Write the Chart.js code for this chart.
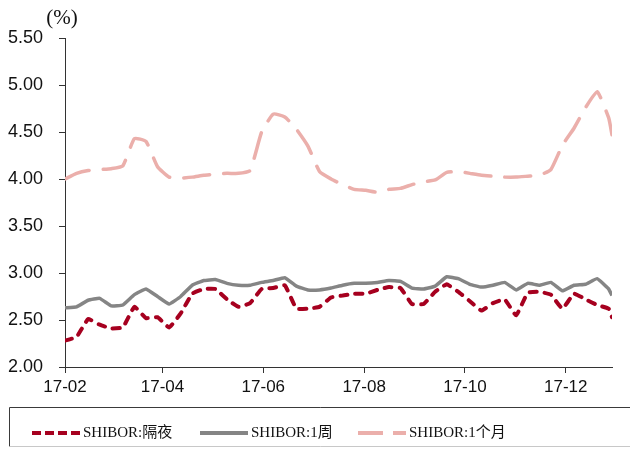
<!DOCTYPE html>
<html>
<head>
<meta charset="utf-8">
<script src="https://cdn.jsdelivr.net/npm/chart.js@4.4.1/dist/chart.umd.min.js"></script>
<style>
  html, body { margin: 0; padding: 0; background: #fff; }
  #wrap { width: 630px; height: 455px; position: relative; }
</style>
</head>
<body>
<div id="wrap"><canvas id="shiborChart"></canvas></div>
<script>
// weekly observation dates, 2017
const dates = ['02-01','02-08','02-15','02-22','03-01','03-08','03-15','03-22','03-29',
  '04-05','04-12','04-19','04-26','05-03','05-10','05-17','05-24','05-31',
  '06-07','06-14','06-21','06-28','07-05','07-12','07-19','07-26',
  '08-02','08-09','08-16','08-23','08-30','09-06','09-13','09-20','09-27',
  '10-04','10-11','10-18','10-25','11-01','11-08','11-15','11-22','11-29',
  '12-06','12-13','12-20','12-27','12-29'];

const overnight = [2.28,2.32,2.51,2.45,2.41,2.42,2.64,2.52,2.53,2.42,2.57,2.78,2.83,2.83,2.72,2.64,2.68,2.83,
  2.84,2.87,2.62,2.62,2.64,2.74,2.76,2.78,2.78,2.82,2.85,2.84,2.67,2.67,2.80,2.88,2.80,
  2.70,2.60,2.68,2.72,2.55,2.79,2.80,2.77,2.62,2.78,2.72,2.66,2.62,2.53];

const week1 = [2.63,2.64,2.71,2.73,2.65,2.66,2.77,2.83,2.75,2.67,2.75,2.87,2.92,2.93,2.89,2.87,2.87,2.90,
  2.92,2.95,2.86,2.82,2.82,2.84,2.87,2.89,2.89,2.90,2.92,2.91,2.84,2.83,2.86,2.96,2.94,
  2.88,2.85,2.87,2.90,2.82,2.89,2.87,2.90,2.81,2.87,2.88,2.94,2.83,2.76];

const month1 = [4.00,4.06,4.09,4.10,4.11,4.14,4.43,4.40,4.13,4.02,4.01,4.02,4.04,4.05,4.06,4.06,4.09,4.50,
  4.69,4.66,4.53,4.35,4.08,4.00,3.94,3.89,3.88,3.86,3.89,3.90,3.94,3.97,3.99,4.07,4.08,
  4.06,4.04,4.03,4.02,4.02,4.03,4.04,4.10,4.36,4.54,4.76,4.93,4.65,4.47];

const xTickLabels = ['17-02','17-04','17-06','17-08','17-10','17-12'];
const yTicks = [2.0, 2.5, 3.0, 3.5, 4.0, 4.5, 5.0, 5.5];
const seriesNames = ['SHIBOR:隔夜', 'SHIBOR:1周', 'SHIBOR:1个月'];

const DAY = 86400000;
const start = Date.UTC(2017, 1, 1);
const dayOf = s => (Date.UTC(2017, +s.slice(0, 2) - 1, +s.slice(3, 5)) - start) / DAY;
const tickDays = xTickLabels.map(l => (Date.UTC(2000 + +l.slice(0, 2), +l.slice(3, 5) - 1, 1) - start) / DAY);
const pts = vals => vals.map((v, i) => ({ x: dayOf(dates[i]), y: v }));

const axisColor = '#333333';

// legend drawn in a box under the axis, like the original
const boxLegend = {
  id: 'boxLegend',
  afterDraw(chart) {
    const ctx = chart.ctx;
    ctx.save();
    ctx.strokeStyle = '#3a3a3a';
    ctx.lineWidth = 1;
    ctx.beginPath();
    ctx.moveTo(640, 407.5); ctx.lineTo(9.5, 407.5); ctx.lineTo(9.5, 446.5);
    ctx.stroke();
    ctx.strokeStyle = '#c8c8c8';
    ctx.beginPath();
    ctx.moveTo(9.5, 446.5); ctx.lineTo(640, 446.5);
    ctx.stroke();

    const starts = [32, 200, 358];
    const legendDash = [[9, 4], [], [25, 10]];
    const y = 433;
    chart.data.datasets.forEach((ds, i) => {
      const x0 = starts[i];
      ctx.strokeStyle = ds.borderColor;
      ctx.lineWidth = 4;
      ctx.lineCap = 'butt';
      ctx.setLineDash(legendDash[i]);
      ctx.beginPath();
      ctx.moveTo(x0, y); ctx.lineTo(x0 + 48, y);
      ctx.stroke();
      ctx.setLineDash([]);
      ctx.fillStyle = '#111';
      ctx.font = '15px "Liberation Serif", "Noto Sans CJK SC", serif';
      ctx.textBaseline = 'middle';
      ctx.textAlign = 'left';
      ctx.fillText(ds.label, x0 + 51, y);
    });

    ctx.font = '21px "Liberation Serif", "Noto Sans CJK SC", serif';
    ctx.textAlign = 'center';
    ctx.fillText('(%)', 62, 18);
    ctx.restore();
  }
};

new Chart(document.getElementById('shiborChart'), {
  type: 'line',
  data: {
    datasets: [{
      label: seriesNames[0],
      data: pts(overnight),
      borderColor: '#A6001F',
      borderWidth: 4,
      borderDash: [7, 8],
      borderCapStyle: 'round',
      pointRadius: 0,
      tension: 0.1
    }, {
      label: seriesNames[1],
      data: pts(week1),
      borderColor: '#858585',
      borderWidth: 3.5,
      pointRadius: 0,
      tension: 0.1
    }, {
      label: seriesNames[2],
      data: pts(month1),
      borderColor: '#EBAFAB',
      borderWidth: 3.5,
      borderDash: [26, 14],
      borderCapStyle: 'round',
      pointRadius: 0,
      tension: 0.15
    }]
  },
  options: {
    responsive: true,
    maintainAspectRatio: false,
    animation: false,
    layout: { padding: { top: 38, right: 18, bottom: 0, left: 0 } },
    plugins: {
      legend: { display: false },
      tooltip: { enabled: false }
    },
    scales: {
      x: {
        type: 'linear',
        min: 0,
        max: dayOf('12-29'),
        afterBuildTicks: s => { s.ticks = tickDays.map(v => ({ value: v })); },
        afterFit: s => { s.height = 88; },
        ticks: {
          autoSkip: false,
          maxRotation: 0,
          padding: 4,
          color: '#111',
          font: { family: '"Liberation Sans", Arial, sans-serif', size: 17 },
          callback: (v, i) => xTickLabels[i]
        },
        grid: { drawOnChartArea: false, drawTicks: true, tickLength: 6, color: axisColor },
        border: { color: axisColor, width: 1 }
      },
      y: {
        min: 2,
        max: 5.5,
        afterBuildTicks: s => { s.ticks = yTicks.map(v => ({ value: v })); },
        afterFit: s => { s.width = 65; },
        ticks: {
          padding: 16,
          color: '#111',
          font: { family: '"Liberation Sans", Arial, sans-serif', size: 18 },
          callback: v => v.toFixed(2)
        },
        grid: { drawOnChartArea: false, drawTicks: true, tickLength: 6, color: axisColor },
        border: { color: axisColor, width: 1 }
      }
    }
  },
  plugins: [boxLegend]
});
</script>
</body>
</html>
